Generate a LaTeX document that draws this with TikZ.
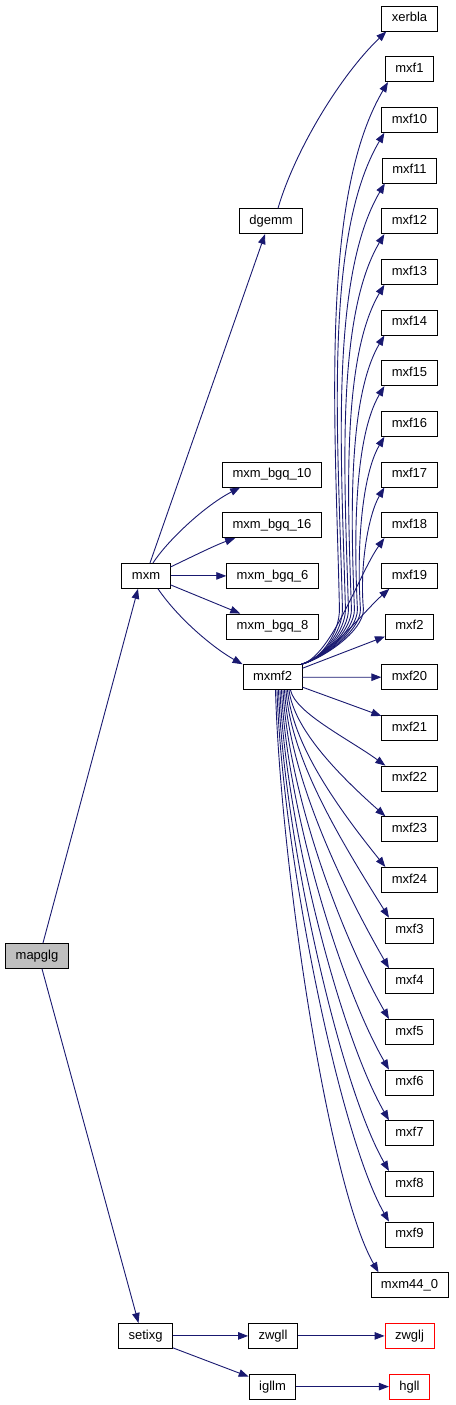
\documentclass[tikz,border=0pt]{standalone}
\usepackage{fontspec}
\setmainfont{Liberation Sans}
\usetikzlibrary{arrows.meta,calc}
\definecolor{edgecol}{HTML}{191970}
\definecolor{grayfill}{HTML}{BFBFBF}
\begin{document}
\begin{tikzpicture}[x=1pt,y=-1pt,
  box/.style={draw=black,line width=0.9pt,fill=white,minimum height=25pt,
    inner xsep=10pt,inner ysep=0pt,text height=9.4pt,text depth=2.6pt,
    font=\fontsize{13}{15}\selectfont,anchor=center},
  redbox/.style={box,draw=red},
  rootbox/.style={box,fill=grayfill},
  edge/.style={draw=edgecol,line width=0.9pt,-{Triangle[length=10pt,width=7.5pt]}}]
\useasboundingbox (0,0) rectangle (455,1405);

% left / middle nodes
\node[rootbox] (mapglg) at (37,955.9) {mapglg};
\node[box] (mxm) at (146,575.9) {mxm};
\node[box] (setixg) at (145.5,1335.9) {setixg};
\node[box] (dgemm) at (271,221.2) {dgemm};
\node[box] (bgqA) at (272,474.5) {mxm\_bgq\_10};
\node[box] (bgqB) at (272,525.2) {mxm\_bgq\_16};
\node[box] (bgqC) at (272.5,575.9) {mxm\_bgq\_6};
\node[box] (bgqD) at (272.5,626.5) {mxm\_bgq\_8};
\node[box] (mxmf2) at (272.5,677.2) {mxmf2};
\node[box] (zwgll) at (273,1335.9) {zwgll};
\node[box] (igllm) at (272.5,1386.6) {igllm};
\node[redbox] (zwglj) at (409.5,1335.9) {zwglj};
\node[redbox] (hgll) at (409.5,1386.6) {hgll};

% right column
\foreach \nm/\lb [count=\r from 0] in {xerbla/xerbla,f1/mxf1,f10/mxf10,f11/mxf11,f12/mxf12,f13/mxf13,f14/mxf14,f15/mxf15,f16/mxf16,f17/mxf17,f18/mxf18,f19/mxf19,f2/mxf2,f20/mxf20,f21/mxf21,f22/mxf22,f23/mxf23,f24/mxf24,f3/mxf3,f4/mxf4,f5/mxf5,f6/mxf6,f7/mxf7,f8/mxf8,f9/mxf9,mfour/mxm44\_0} {
  \pgfmathsetmacro\yy{18.5+50.67*\r}
  \node[box] (\nm) at (409.5,\yy) {\lb};
}

% edges from mapglg
\draw[edge] ($(mapglg.north)+(6,0)$) -- ($(mxm.south)+(-8,0)$);
\draw[edge] ($(mapglg.south)+(5,0)$) -- ($(setixg.north)+(-7,0)$);

% edges from mxm
\draw[edge] ($(mxm.north)+(4,0)$) -- ($(dgemm.south)+(-6,0)$);
\draw[edge] ($(mxm.north)+(7,0)$) .. controls ($(mxm.north)+(22,-23)$) and ($(bgqA.south west)+(-17,18)$) .. ($(bgqA.south west)+(18,0)$);
\draw[edge] ($(mxm.north east)+(0,4)$) .. controls ($(mxm.north east)+(19,-5)$) and ($(bgqB.south west)+(-7,7)$) .. ($(bgqB.south west)+(13,0)$);
\draw[edge] (mxm.east) -- (bgqC.west);
\draw[edge] ($(mxm.south east)+(0,-4)$) -- ($(bgqD.north west)+(14,0)$);
\draw[edge] ($(mxm.south)+(12,0)$) .. controls ($(mxm.south)+(34,32)$) and ($(mxmf2.north west)+(-27,-15)$) .. ($(mxmf2.north west)+(0,0)$);

% dgemm -> xerbla
\draw[edge] ($(dgemm.north)+(7,0)$) .. controls ($(dgemm.north)+(24,-58)$) and ($(xerbla.south west)+(-41,44)$) .. ($(xerbla.south west)+(5,0)$);

% mxmf2 upper fan (tall curves: two segments through a waypoint)
\foreach \nm/\r in {f1/1,f10/2,f11/3,f12/4,f13/5,f14/6,f15/7,f16/8,f17/9} {
  \pgfmathsetmacro\L{609.7-(18.5+50.67*\r+12.5)}
  \pgfmathsetmacro\wx{34+3*\r}
  \pgfmathsetmacro\ca{-0.35*\L}
  \pgfmathsetmacro\hh{3-0.13*\L}
  \pgfmathsetmacro\vv{0.22*\L}
  \draw[edge] ($(mxmf2.north east)+(-1,0)$)
     .. controls ($(mxmf2.north east)+(21,-6)$) and ($(mxmf2.north east)+(\wx,-33)$)
     .. ($(mxmf2.north east)+(\wx,-55)$)
     .. controls ($(mxmf2.north east)+({\wx-4},{-55+\ca})$) and ($(\nm.south west)+(\hh,\vv)$)
     .. ($(\nm.south west)+(3,0)$);
}
\draw[edge] ($(mxmf2.north east)+(-1,0)$) .. controls ($(mxmf2.north east)+(29,-8)$) and ($(f18.south west)+(-22,35)$) .. ($(f18.south west)+(3,0)$);
\draw[edge] ($(mxmf2.north east)+(-1,0)$) .. controls ($(mxmf2.north east)+(29,-10)$) and ($(f19.south west)+(-17,22)$) .. ($(f19.south west)+(8,0)$);
\draw[edge] ($(mxmf2.north east)+(0,4)$) -- ($(f2.south west)+(0,-3)$);
\draw[edge] (mxmf2.east) -- (f20.west);
\draw[edge] ($(mxmf2.south east)+(0,-3)$) -- ($(f21.north west)+(0,1)$);

% mxmf2 lower fan
\foreach \nm/\r in {f22/15,f23/16,f24/17,f3/18,f4/19,f5/20,f6/21,f7/22,f8/23,f9/24,mfour/25} {
  \pgfmathsetmacro\dy{(18.5+50.67*\r-12.5)-690}
  \pgfmathsetmacro\hh{min(50,0.35*\dy+10)}
  \pgfmathsetmacro\vv{min(87,0.35*\dy)}
  \pgfmathsetmacro\cy{0.3*\dy}
  \pgfmathsetmacro\sx{18-1.5*(\r-15)}
  \pgfmathsetmacro\ex{\r==25 ? 8 : 4}
  \draw[edge] ($(mxmf2.south)+(\sx,0)$) .. controls ($(mxmf2.south)+({\sx+5},\cy)$) and ($(\nm.north west)+({\ex-\hh},-\vv)$) .. ($(\nm.north west)+(\ex,0)$);
}

% setixg branch
\draw[edge] (setixg.east) -- (zwgll.west);
\draw[edge] ($(setixg.south east)+(0,-1)$) -- ($(igllm.north west)+(0,3)$);
\draw[edge] (zwgll.east) -- (zwglj.west);
\draw[edge] (igllm.east) -- (hgll.west);
\end{tikzpicture}
\end{document}
